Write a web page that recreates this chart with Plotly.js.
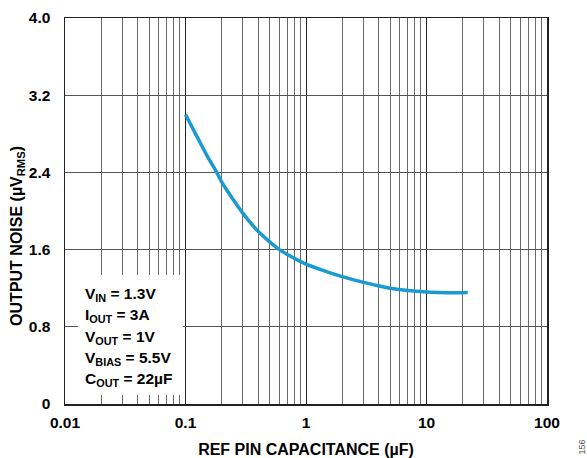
<!DOCTYPE html>
<html>
<head>
<meta charset="utf-8">
<script src="https://cdn.plot.ly/plotly-3.0.1.min.js"></script>
<style>html,body{margin:0;padding:0;background:#fff;}#chart{width:587px;height:458px;}</style>
</head>
<body>
<div id="chart"></div>
<script>
const capacitance = [0.1, 0.12, 0.15, 0.18, 0.2, 0.25, 0.3, 0.4, 0.5, 0.6, 0.7, 0.8, 1, 1.5, 2, 3, 4, 5, 7, 10, 15, 22];
const noise = [3.00, 2.81, 2.58, 2.41, 2.30, 2.115, 1.975, 1.79, 1.68, 1.60, 1.55, 1.51, 1.45, 1.37, 1.32, 1.26, 1.225, 1.20, 1.175, 1.16, 1.152, 1.155];
const xTickVals = [0.01, 0.1, 1, 10, 100];
const xTickText = ['0.01', '0.1', '1', '10', '100'];
const yTickVals = [0, 0.8, 1.6, 2.4, 3.2, 4.0];
const yTickText = ['0', '0.8', '1.6', '2.4', '3.2', '4.0'];
const conditions = [
  'V<sub>IN</sub> = 1.3V',
  'I<sub>OUT</sub> = 3A',
  'V<sub>OUT</sub> = 1V',
  'V<sub>BIAS</sub> = 5.5V',
  'C<sub>OUT</sub> = 22µF'
];

const fontFam = 'Liberation Sans, Arial, sans-serif';

const annotations = conditions.map((t, i) => ({
  xref: 'paper', yref: 'paper',
  x: 0.038, y: 0.283 - i * 0.055,
  xanchor: 'left', yanchor: 'middle',
  text: '<b>' + t + '</b>', showarrow: false,
  font: {family: fontFam, size: 15.5, color: '#000'}
}));
annotations.push({
  xref: 'paper', yref: 'paper', x: -0.1, y: 0.435,
  xanchor: 'center', yanchor: 'middle', textangle: -90,
  text: '<b>OUTPUT NOISE (µV<sub>RMS</sub>)</b>', showarrow: false,
  font: {family: fontFam, size: 16, color: '#000'}
});
annotations.push({
  xref: 'paper', yref: 'paper', x: 1.073, y: -0.112,
  xanchor: 'center', yanchor: 'middle', textangle: -90,
  text: '156', showarrow: false,
  font: {family: fontFam, size: 9, color: '#555'}
});

const layout = {
  width: 587, height: 458,
  margin: {l: 65, r: 40, t: 18, b: 54},
  paper_bgcolor: '#fff', plot_bgcolor: '#fff',
  showlegend: false,
  xaxis: {
    type: 'log', range: [-2, 2],
    tickvals: xTickVals, ticktext: xTickText,
    ticks: '', ticklabelstandoff: 4,
    showgrid: true, gridcolor: '#222', gridwidth: 1,
    minor: {dtick: 'D1', showgrid: true, gridcolor: '#6a6a6a', gridwidth: 1, ticks: ''},
    showline: true, linecolor: '#222', linewidth: 1.5, mirror: true,
    zeroline: false,
    tickfont: {family: fontFam, size: 15.5, color: '#000', weight: 'bold'},
    title: {text: '<b>REF PIN CAPACITANCE (µF)</b>', font: {family: fontFam, size: 16, color: '#000'}, standoff: 13}
  },
  yaxis: {
    range: [0, 4.0],
    tickvals: yTickVals, ticktext: yTickText,
    ticks: '', ticklabelstandoff: 10,
    showgrid: true, gridcolor: '#555', gridwidth: 1,
    showline: true, linecolor: '#222', linewidth: 1.5, mirror: true,
    zeroline: false,
    tickfont: {family: fontFam, size: 15.5, color: '#000', weight: 'bold'}
  },
  shapes: [{
    type: 'rect', xref: 'x', yref: 'y', layer: 'above',
    x0: 0.0128, x1: 0.0953, y0: 0.093, y1: 1.337,
    fillcolor: '#fff', line: {width: 0}
  }],
  annotations: annotations
};

const trace = {
  x: capacitance, y: noise, type: 'scatter', mode: 'lines',
  line: {color: '#1b9ad2', width: 3.5, shape: 'spline', smoothing: 0.8},
  hoverinfo: 'skip'
};

Plotly.newPlot('chart', [trace], layout, {displayModeBar: false, staticPlot: true});
</script>
</body>
</html>
